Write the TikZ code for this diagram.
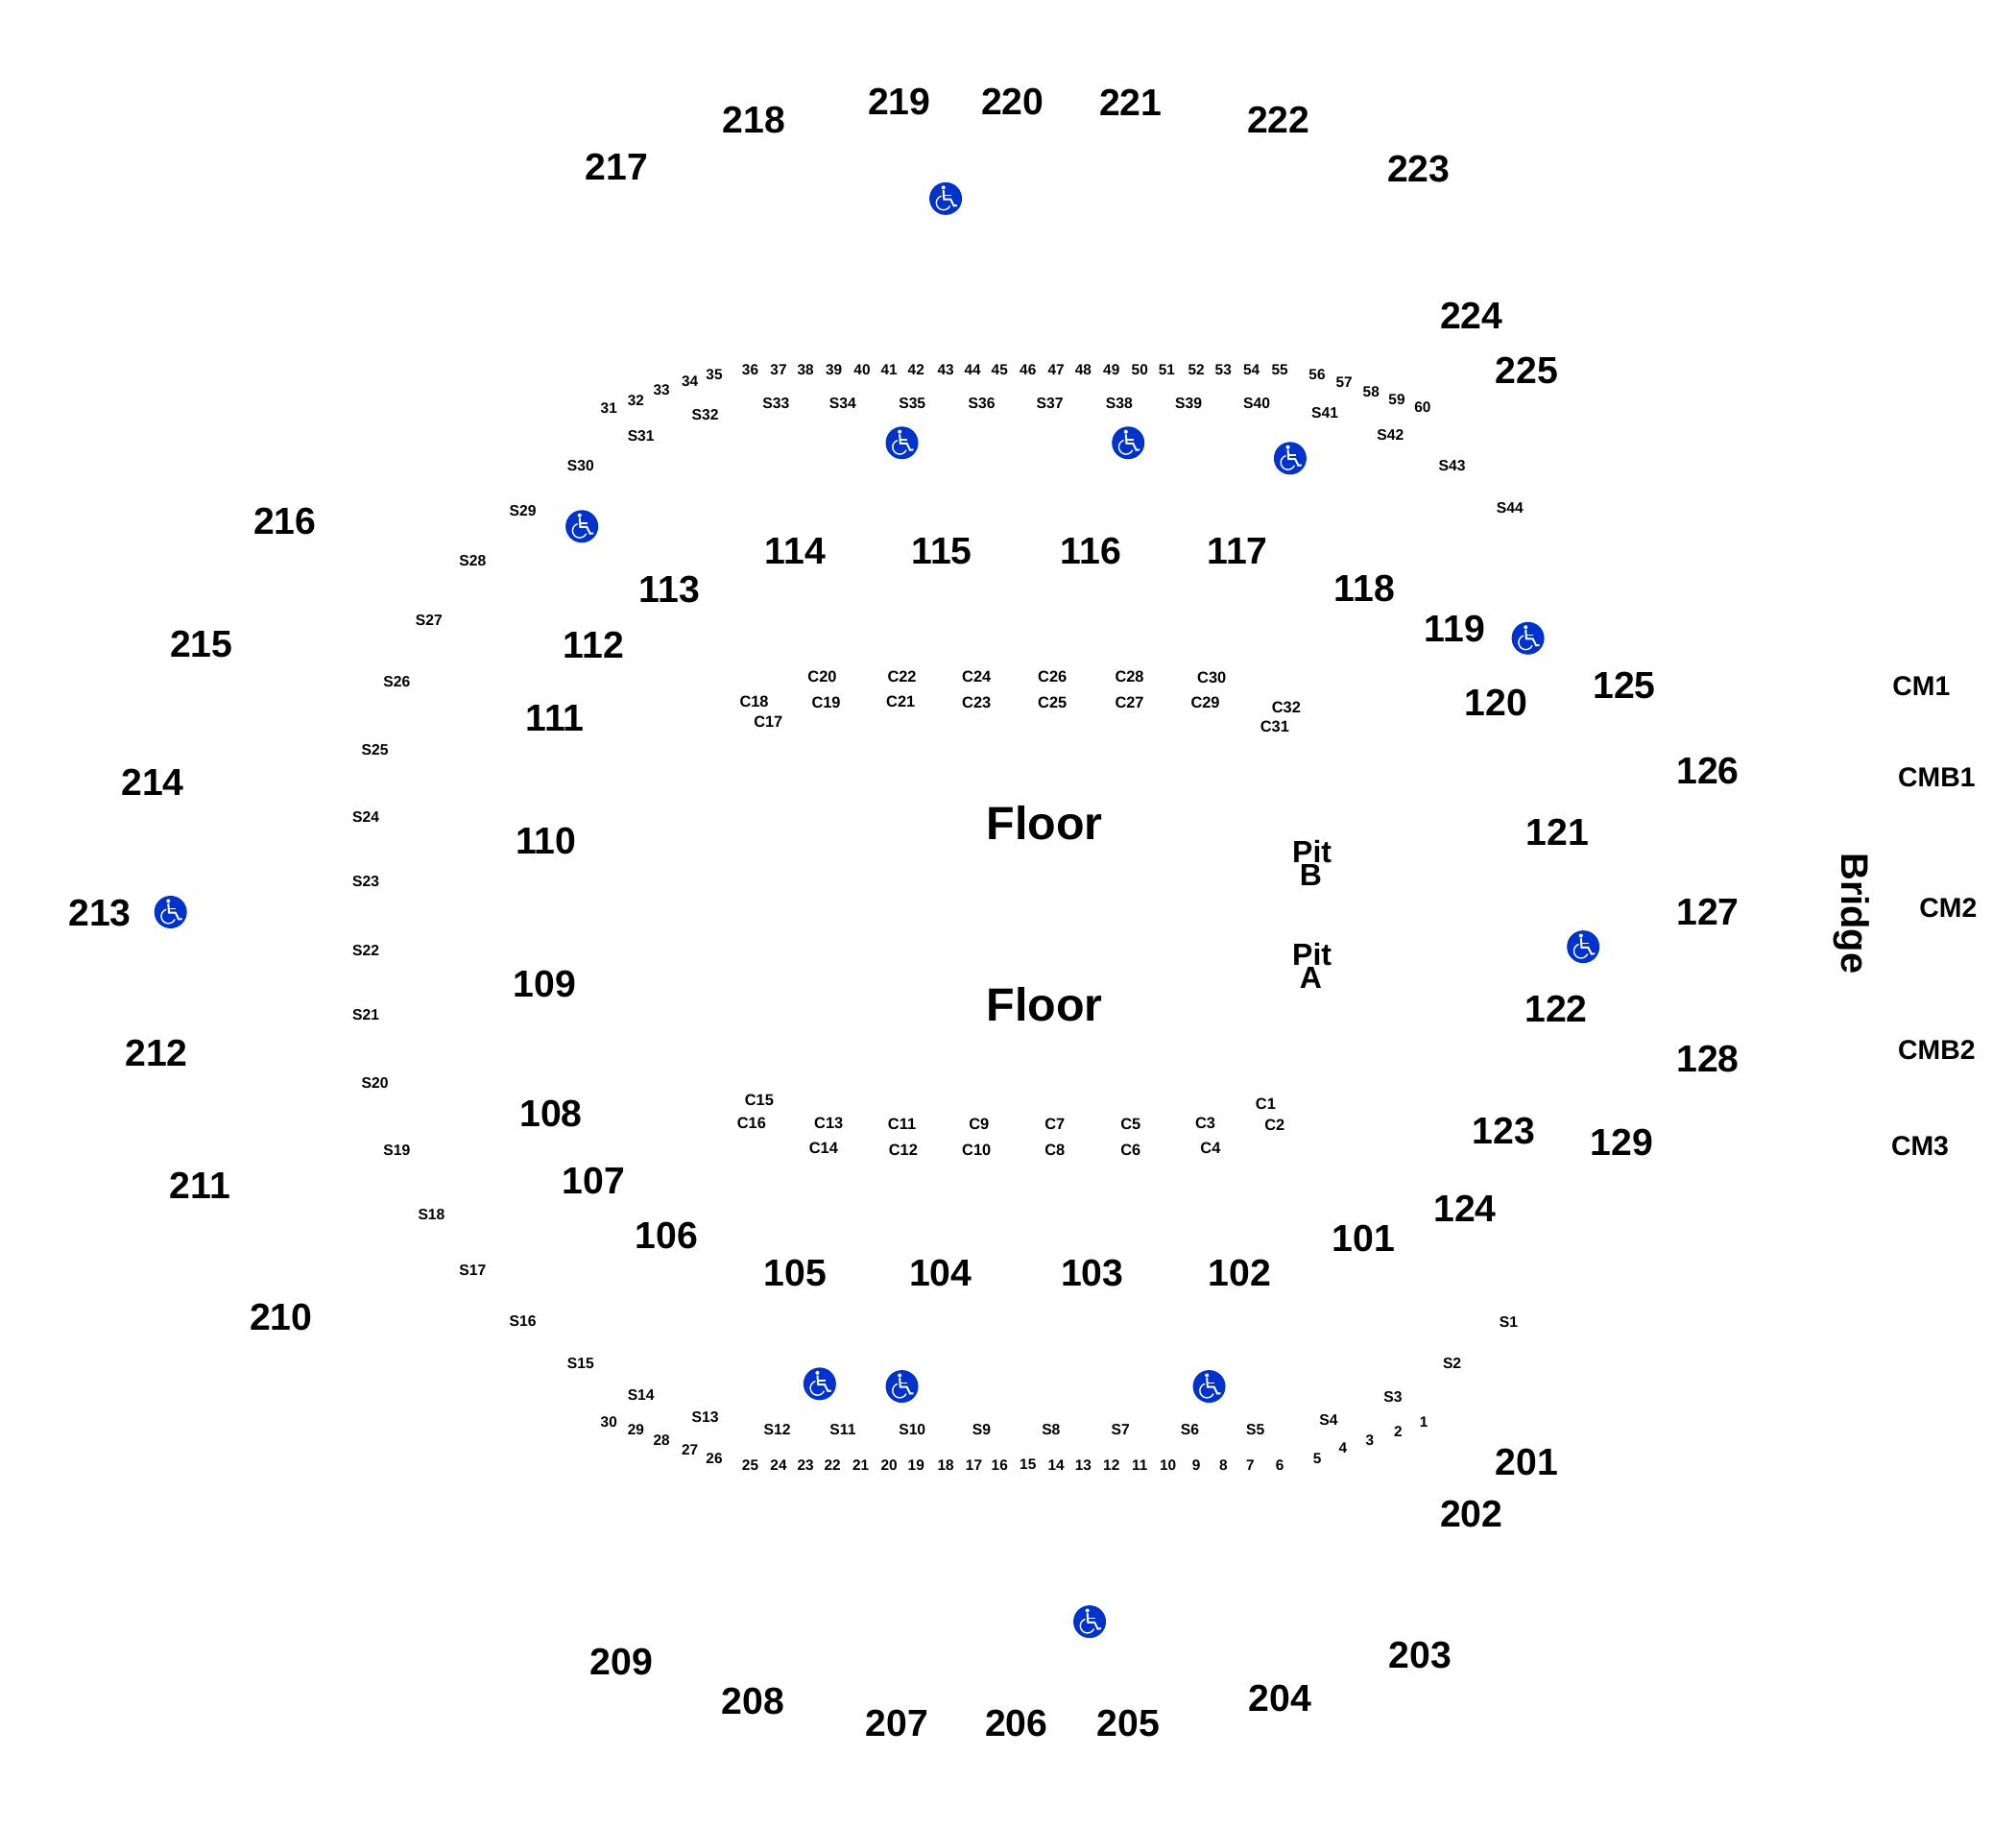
\documentclass[tikz,border=0pt]{standalone}
\usepackage{fontspec}
\setmainfont{Liberation Sans}
\definecolor{wcblue}{HTML}{0033CC}
\tikzset{
  lab/.style={inner sep=0pt,font=\bfseries,text=black,anchor=center},
  bigl/.style={lab,font=\fontsize{19.6}{20}\bfseries\selectfont},
  seat/.style={lab,font=\fontsize{7.7}{8}\bfseries\selectfont},
  sect/.style={lab,font=\fontsize{7.85}{8}\bfseries\selectfont},
  clab/.style={lab,font=\fontsize{8.2}{9}\bfseries\selectfont},
  cmlab/.style={lab,font=\fontsize{14.2}{15}\bfseries\selectfont},
  floorl/.style={lab,font=\fontsize{24.2}{25}\bfseries\selectfont},
  pitl/.style={lab,font=\fontsize{16}{16}\bfseries\selectfont},
  bridgel/.style={lab,font=\fontsize{19.9}{20}\bfseries\selectfont,rotate=-90},
  wcirc/.style={circle,fill=wcblue,draw=none,minimum size=17pt,inner sep=0pt},
  wheel/.pic={
    \begin{scope}[x=8.5pt,y=8.5pt,white]
      \fill (-0.14,0.68) circle (0.12);
      \draw[line width=1pt] (-0.14,0.52) -- (-0.1,-0.04) -- (0.3,-0.04) -- (0.5,-0.44) -- (0.7,-0.42);
      \draw[line width=0.7pt] (-0.1,0.2) -- (0.34,0.2);
      \draw[line width=0.7pt] (-0.27,0.16) arc (108:335:0.44);
    \end{scope}
  }
}
\begin{document}
\begin{tikzpicture}[x=0.6695pt,y=-0.6695pt]
\useasboundingbox (-0.7,-0.5) rectangle (1567.7,1421.5);
\foreach \x/\y/\t in {1060/963/101,964/990/102,849/990/103,731/990/104,618/990/105,518/961/106,461/918/107,428/866/108,423/765/109,424/654/110,431/558/111,461/501/112,520/458/113,618/428/114,732/428/115,848/428/116,962/428/117,1061/457/118,1131/489/119,1163/546/120,1211/647/121,1210/784/122,1169/879/123,1139/940/124,1263/533/125,1328/599/126,1328/709/127,1328/823/128,1261/888/129,
1187/1137/201,1144/1177/202,1104/1287/203,995/1321/204,877/1340/205,790/1340/206,697/1340/207,585/1323/208,483/1292/209,218/1024/210,155/922/211,121/819/212,77/710/213,118/608/214,156/501/215,221/405/216,479/129/217,586/93/218,699/79/219,787/79/220,879/79/221,994/93/222,1103/131/223,1144/245/224,1187/288/225}
  \node[bigl] (n\t) at (\x,\y) {\t};
\foreach \x/\y/\t in {473/317/31,494/311/32,514/303/33,536/296/34,555/291/35,583/287/36,605/287/37,626/287/38,648/287/39,670/287/40,691/287/41,712/287/42,735/287/43,756/287/44,777/287/45,799/287/46,821/287/47,842/287/48,864/287/49,886/287/50,907/287/51,930/287/52,951/287/53,973/287/54,995/287/55,1024/291/56,1045/297/57,1066/304/58,1086/310/59,1106/316/60,
1107/1106/1,1087/1113/2,1065/1120/3,1044/1126/4,1024/1134/5,995/1139/6,972/1139/7,951/1139/8,930/1139/9,908/1139/10,886/1139/11,864/1139/12,842/1139/13,821/1139/14,799/1139/15,777/1139/16,757/1139/17,735/1139/18,712/1139/19,691/1139/20,669/1139/21,647/1139/22,626/1139/23,605/1139/24,583/1139/25,555/1134/26,536/1127/27,514/1120/28,494/1112/29,473/1106/30}
  \node[seat] (q\t) at (\x,\y) {\t};
\foreach \x/\y/\t in {1173/1028/S1,1129/1060/S2,1083/1086/S3,1033/1104/S4,976/1112/S5,925/1112/S6,871/1112/S7,817/1112/S8,763/1112/S9,709/1112/S10,655/1112/S11,604/1112/S12,548/1102/S13,498/1085/S14,451/1060/S15,406/1027/S16,367/988/S17,335/944/S18,308/894/S19,291/842/S20,284/789/S21,284/739/S22,284/685/S23,284/635/S24,291/583/S25,308/530/S26,333/482/S27,367/436/S28,406/397/S29,451/362/S30,498/339/S31,548/322/S32,603/313/S33,655/313/S34,709/313/S35,763/313/S36,816/313/S37,870/313/S38,924/313/S39,977/313/S40,1030/321/S41,1081/338/S42,1129/362/S43,1174/395/S44}
  \node[sect] (n\t) at (\x,\y) {\t};
\foreach \x/\y/\t in {984/858/C1,991/875/C2,937/873/C3,941/893/C4,879/874/C5,879/894/C6,820/874/C7,820/894/C8,761/874/C9,759/894/C10,701/874/C11,702/894/C12,644/873/C13,640/893/C14,590/855/C15,584/873/C16,597/561/C17,586/545/C18,642/546/C19,639/526/C20,700/545/C21,701/526/C22,759/546/C23,759/526/C24,818/546/C25,818/526/C26,878/546/C27,878/526/C28,937/546/C29,942/527/C30,991/565/C31,1000/550/C32}
  \node[clab] (n\t) at (\x,\y) {\t};
\foreach \x/\y/\t in {1494/533/CM1,1506/604/CMB1,1515/706/CM2,1506/816/CMB2,1493/891/CM3}
  \node[cmlab] (n\t) at (\x,\y) {\t};
\node[bridgel] (bridge) at (1440,710) {Bridge};
\node[floorl] (floorb) at (812,640) {Floor};
\node[floorl] (floora) at (812,781) {Floor};
\node[pitl] (pitb) at (1020,662) {Pit};
\node[pitl] (pitbl) at (1019,680) {B};
\node[pitl] (pita) at (1020,742) {Pit};
\node[pitl] (pital) at (1019,760) {A};
\foreach \x/\y [count=\i] in {735/154,701/344,877/344,1003/356,452/409,1188/496,1231/736,132/709,637/1076,701/1078,940/1078,847/1261}{
  \node[wcirc] (w\i) at (\x,\y) {};
  \pic at (w\i) {wheel};
}
\end{tikzpicture}
\end{document}
